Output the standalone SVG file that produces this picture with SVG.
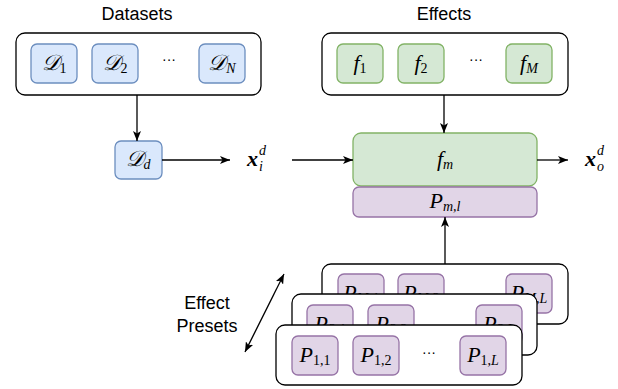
<svg xmlns="http://www.w3.org/2000/svg" width="618" height="389" viewBox="0 0 618 389">
<style>
.cont{fill:#fff;stroke:#000;stroke-width:1.3}
.blue{fill:#dae8fc;stroke:#6c8ebf;stroke-width:1.3}
.green{fill:#d5e8d4;stroke:#82b366;stroke-width:1.3}
.purple{fill:#e1d5e7;stroke:#9673a6;stroke-width:1.3}
.lbl{font-family:"Liberation Sans",Arial,sans-serif;font-size:18px;fill:#000}
.m{font-family:"Liberation Serif","DejaVu Serif",serif;font-size:22px;font-style:italic;fill:#000}
.s{font-size:14px}
.u{font-style:normal}
.dots{font-family:"Liberation Sans",Arial,sans-serif;font-size:14px;fill:#000}
.conn{stroke:#000;stroke-width:1.3;fill:none}
</style>
<defs>
<marker id="arr" viewBox="0 0 10 8" refX="10" refY="4" markerWidth="10" markerHeight="8" orient="auto-start-reverse" markerUnits="userSpaceOnUse">
<path d="M0,0 L10,4 L0,8 L2.5,4 z" fill="#000"/>
</marker>
</defs>

<text class="lbl" x="137" y="20" text-anchor="middle">Datasets</text>
<text class="lbl" x="444" y="20" text-anchor="middle">Effects</text>
<text class="lbl" x="207" y="309" text-anchor="middle">Effect</text>
<text class="lbl" x="207" y="332" text-anchor="middle">Presets</text>

<g id="datasets">
<rect class="cont" x="16" y="33" width="245" height="62" rx="9"/>
<g id="d1"><rect class="blue" x="31" y="44" width="46" height="39" rx="6"/><text class="m" x="54" y="70" text-anchor="middle">𝒟<tspan class="s u" dy="3">1</tspan></text></g>
<g id="d2"><rect class="blue" x="92" y="44" width="46" height="39" rx="6"/><text class="m" x="115" y="70" text-anchor="middle">𝒟<tspan class="s u" dy="3">2</tspan></text></g>
<text class="dots" x="169" y="64" text-anchor="middle">···</text>
<g id="dN"><rect class="blue" x="199" y="44" width="46" height="39" rx="6"/><text class="m" x="222" y="70" text-anchor="middle">𝒟<tspan class="s" dy="3">N</tspan></text></g>
</g>

<g id="effects">
<rect class="cont" x="322" y="33" width="246" height="62" rx="9"/>
<g id="f1"><rect class="green" x="337" y="44" width="46" height="39" rx="6"/><text class="m" x="360" y="70" text-anchor="middle">f<tspan class="s u" dy="3">1</tspan></text></g>
<g id="f2"><rect class="green" x="398" y="44" width="46" height="39" rx="6"/><text class="m" x="421" y="70" text-anchor="middle">f<tspan class="s u" dy="3">2</tspan></text></g>
<text class="dots" x="476" y="64" text-anchor="middle">···</text>
<g id="fM"><rect class="green" x="506" y="44" width="46" height="39" rx="6"/><text class="m" x="529" y="70" text-anchor="middle">f<tspan class="s" dy="3">M</tspan></text></g>
</g>

<g id="Dd"><rect class="blue" x="115" y="141" width="47" height="38" rx="6"/><text class="m" x="138" y="166" text-anchor="middle">𝒟<tspan class="s" dy="3">d</tspan></text></g>

<g id="xi">
<text class="m" x="247" y="166" font-weight="bold">x</text>
<text class="m s" x="259" y="155">d</text>
<text class="m s" x="259" y="171">i</text>
</g>

<g id="fm"><rect class="green" x="353" y="133" width="184" height="53" rx="8"/><text class="m" x="445" y="166" text-anchor="middle">f<tspan class="s" dy="3">m</tspan></text></g>
<g id="Pml"><rect class="purple" x="353" y="187" width="184" height="30" rx="6"/><text class="m" x="445" y="208" text-anchor="middle">P<tspan class="s" dy="3">m,l</tspan></text></g>

<g id="xo">
<text class="m" x="585" y="166" font-weight="bold">x</text>
<text class="m s" x="597" y="155">d</text>
<text class="m s" x="597" y="171">o</text>
</g>

<g id="presets-M">
<rect class="cont" x="322" y="264" width="246" height="60" rx="9"/>
<g><rect class="purple" x="338" y="274" width="46" height="39" rx="6"/><text class="m" x="361" y="300" text-anchor="middle">P<tspan class="s" dy="3">M,1</tspan></text></g>
<g><rect class="purple" x="398" y="274" width="46" height="39" rx="6"/><text class="m" x="421" y="300" text-anchor="middle">P<tspan class="s" dy="3">M,2</tspan></text></g>
<g><rect class="purple" x="506" y="274" width="46" height="39" rx="6"/><text class="m" x="529" y="300" text-anchor="middle">P<tspan class="s" dy="3">M,L</tspan></text></g>
</g>
<g id="presets-2">
<rect class="cont" x="292" y="294" width="245" height="61" rx="9"/>
<g><rect class="purple" x="307" y="305" width="46" height="39" rx="6"/><text class="m" x="330" y="331" text-anchor="middle">P<tspan class="s" dy="3">2,1</tspan></text></g>
<g><rect class="purple" x="368" y="305" width="46" height="39" rx="6"/><text class="m" x="391" y="331" text-anchor="middle">P<tspan class="s" dy="3">2,2</tspan></text></g>
<g><rect class="purple" x="476" y="305" width="46" height="39" rx="6"/><text class="m" x="499" y="331" text-anchor="middle">P<tspan class="s" dy="3">2,L</tspan></text></g>
</g>
<g id="presets-1">
<rect class="cont" x="276" y="325" width="246" height="60" rx="9"/>
<g id="p11"><rect class="purple" x="292" y="336" width="46" height="39" rx="6"/><text class="m" x="315" y="362" text-anchor="middle">P<tspan class="s u" dy="3">1,1</tspan></text></g>
<g id="p12"><rect class="purple" x="353" y="336" width="46" height="39" rx="6"/><text class="m" x="376" y="362" text-anchor="middle">P<tspan class="s u" dy="3">1,2</tspan></text></g>
<text class="dots" x="429" y="357" text-anchor="middle">···</text>
<g id="p1L"><rect class="purple" x="460" y="336" width="46" height="39" rx="6"/><text class="m" x="483" y="362" text-anchor="middle">P<tspan class="s" dy="3"><tspan class="u">1,</tspan>L</tspan></text></g>
</g>

<g id="connectors">
<line class="conn" x1="137" y1="95" x2="137" y2="141" marker-end="url(#arr)"/>
<line class="conn" x1="444" y1="95" x2="444" y2="133" marker-end="url(#arr)"/>
<line class="conn" x1="162" y1="160" x2="230" y2="160" marker-end="url(#arr)"/>
<line class="conn" x1="292" y1="160" x2="353" y2="160" marker-end="url(#arr)"/>
<line class="conn" x1="537" y1="160" x2="568" y2="160" marker-end="url(#arr)"/>
<line class="conn" x1="445" y1="264" x2="445" y2="217" marker-end="url(#arr)"/>
<line class="conn" x1="245" y1="352" x2="284" y2="274" marker-start="url(#arr)" marker-end="url(#arr)"/>
</g>
</svg>
